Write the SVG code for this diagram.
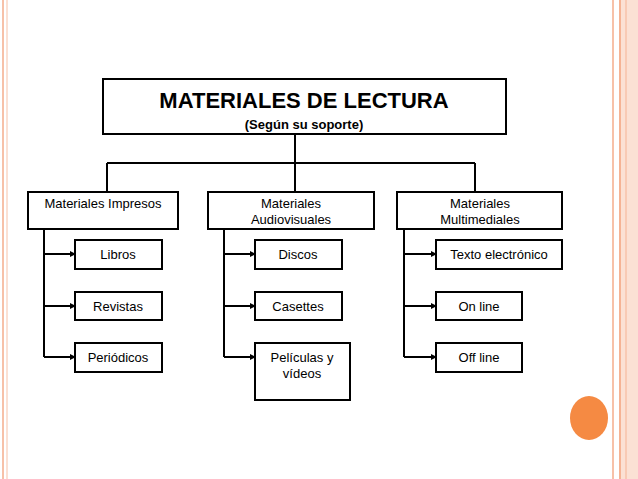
<svg xmlns="http://www.w3.org/2000/svg" width="638" height="479" viewBox="0 0 638 479">
<style>
.b{fill:#fff;stroke:#000;stroke-width:2}
.c{fill:none;stroke:#000;stroke-width:2}
text{font-family:"Liberation Sans",Arial,sans-serif;font-size:13px;text-anchor:middle;fill:#000}
</style>
<defs><marker id="a" markerWidth="6" markerHeight="6" refX="5" refY="3" orient="auto" markerUnits="userSpaceOnUse"><path d="M0,0L6,3L0,6z" fill="#000"/></marker></defs>
<rect width="638" height="479" fill="#fff"/>
<g id="frame">
<line x1="3" y1="0" x2="3" y2="479" stroke="#f7c1a8" stroke-width="2"/>
<line x1="7" y1="0" x2="7" y2="479" stroke="#f7c1a8" stroke-width="1"/>
<line x1="613" y1="0" x2="613" y2="479" stroke="#f7c1a8" stroke-width="2"/>
<rect x="620" y="0" width="18" height="479" fill="#fbe1d4"/>
<line x1="620" y1="0" x2="620" y2="479" stroke="#f5b394" stroke-width="2"/>
<line x1="626" y1="0" x2="626" y2="479" stroke="#f5b394" stroke-width="1"/>
<ellipse cx="589" cy="418" rx="19" ry="22" fill="#f58a43"/>
</g>
<g id="connectors" class="c">
<path class="c" d="M295,134V163M107,163H475M107,163V192M295,163V192M475,163V192"/>
<path class="c" d="M44,229V357M224,229V357M404,229V357"/>
<g marker-end="url(#a)">
<path class="c" d="M44,254H75"/><path class="c" d="M44,306H75"/><path class="c" d="M44,357H75"/>
<path class="c" d="M224,254H255"/><path class="c" d="M224,306H255"/><path class="c" d="M224,357H255"/>
<path class="c" d="M404,254H436"/><path class="c" d="M404,306H436"/><path class="c" d="M404,357H436"/>
</g>
</g>
<g id="title"><rect class="b" x="103" y="79" width="403" height="55"/>
<text x="304" y="108" style="font-size:22px;font-weight:bold">MATERIALES DE LECTURA</text>
<text x="304" y="129" style="font-size:13px;font-weight:bold">(Según su soporte)</text></g>
<g id="impresos"><rect class="b" x="28" y="192" width="150" height="37"/><text x="103" y="208">Materiales Impresos</text></g>
<g id="audiovisuales"><rect class="b" x="208" y="192" width="166" height="37"/><text x="291" y="208">Materiales</text><text x="291" y="224">Audiovisuales</text></g>
<g id="multimediales"><rect class="b" x="397" y="192" width="165" height="37"/><text x="480" y="208">Materiales</text><text x="480" y="224">Multimediales</text></g>
<g id="libros"><rect class="b" x="75" y="240" width="87" height="29"/><text x="118" y="259">Libros</text></g>
<g id="revistas"><rect class="b" x="75" y="292" width="87" height="28"/><text x="118" y="311">Revistas</text></g>
<g id="periodicos"><rect class="b" x="75" y="343" width="87" height="29"/><text x="118" y="362">Periódicos</text></g>
<g id="discos"><rect class="b" x="255" y="240" width="87" height="29"/><text x="298" y="259">Discos</text></g>
<g id="casettes"><rect class="b" x="255" y="292" width="87" height="28"/><text x="298" y="311">Casettes</text></g>
<g id="peliculas"><rect class="b" x="255" y="343" width="95" height="57"/><text x="302" y="362">Películas y</text><text x="302" y="378">vídeos</text></g>
<g id="texto"><rect class="b" x="436" y="240" width="126" height="29"/><text x="499" y="259">Texto electrónico</text></g>
<g id="online"><rect class="b" x="436" y="292" width="86" height="28"/><text x="479" y="311">On line</text></g>
<g id="offline"><rect class="b" x="436" y="343" width="86" height="29"/><text x="479" y="362">Off line</text></g>
</svg>
